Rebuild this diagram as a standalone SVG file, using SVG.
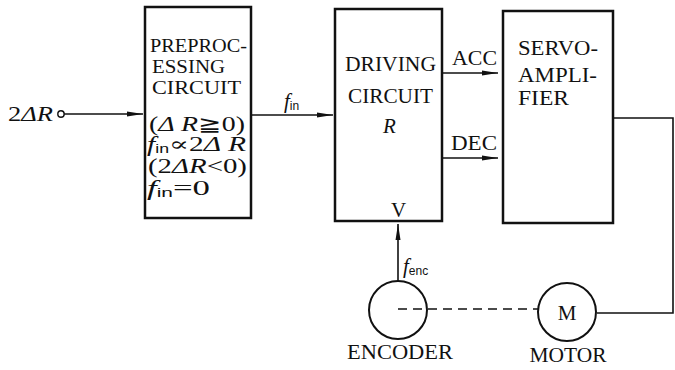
<svg xmlns="http://www.w3.org/2000/svg" width="675" height="370" viewBox="0 0 675 370">
<defs>
<marker id="arr" viewBox="0 0 16 6" refX="16" refY="3" markerWidth="16" markerHeight="6" markerUnits="userSpaceOnUse" orient="auto">
<path d="M0,0.5 L16,3 L0,5.5 Z" fill="#111"/>
</marker>
</defs>
<style>
.box{fill:#fff;stroke:#111;stroke-width:2.5}
.ln{fill:none;stroke:#111;stroke-width:1.6}
.dash{fill:none;stroke:#111;stroke-width:1.6;stroke-dasharray:9,6}
.t{font-family:"Liberation Serif","DejaVu Serif",serif;font-size:21px;fill:#111}
.m{font-size:20px}
.h{font-size:19px}
.i{font-style:italic}
.sub{font-family:"Liberation Sans","DejaVu Sans",sans-serif;font-size:12px;font-style:normal}
</style>
<rect width="675" height="370" fill="#fff"/>
<g id="connectors">
<line class="ln" x1="64" y1="114" x2="143" y2="114" marker-end="url(#arr)"/>
<line class="ln" x1="251" y1="115" x2="333" y2="115" marker-end="url(#arr)"/>
<line class="ln" x1="442" y1="73" x2="498" y2="73" marker-end="url(#arr)"/>
<line class="ln" x1="442" y1="158" x2="498" y2="158" marker-end="url(#arr)"/>
<line class="ln" x1="398" y1="281" x2="398" y2="224" marker-end="url(#arr)"/>
<polyline class="ln" points="613,118 673,118 673,313 597,313"/>
<line class="dash" x1="398" y1="309" x2="538" y2="309"/>
<text class="t i" x="284" y="108" font-size="23">f<tspan class="sub" dy="2">in</tspan></text>
<text class="t" x="452" y="65" textLength="45" lengthAdjust="spacingAndGlyphs">ACC</text>
<text class="t" x="451" y="150" textLength="46" lengthAdjust="spacingAndGlyphs">DEC</text>
<text class="t i" x="403" y="273" font-size="23">f<tspan class="sub" dy="2">enc</tspan></text>
</g>
<g id="input">
<text class="t" x="8" y="121" font-size="24" textLength="45" lengthAdjust="spacingAndGlyphs"><tspan>2</tspan><tspan class="i">ΔR</tspan></text>
<circle cx="61" cy="114" r="3.2" fill="#fff" stroke="#111" stroke-width="1.4"/>
</g>
<g id="preprocessing">
<rect class="box" x="145" y="7" width="106" height="211"/>
<text class="t h" x="150" y="52" textLength="97" lengthAdjust="spacingAndGlyphs">PREPROC-</text>
<text class="t h" x="152" y="73" textLength="73" lengthAdjust="spacingAndGlyphs">ESSING</text>
<text class="t h" x="152" y="94" textLength="89" lengthAdjust="spacingAndGlyphs">CIRCUIT</text>
<text class="t m" x="149" y="131" textLength="96" lengthAdjust="spacingAndGlyphs">(<tspan class="i">Δ R</tspan>≧0)</text>
<text class="t m" x="147" y="151" textLength="99" lengthAdjust="spacingAndGlyphs"><tspan class="i">f</tspan><tspan class="sub" dy="2">in</tspan><tspan dy="-2">∝2</tspan><tspan class="i">Δ R</tspan></text>
<text class="t m" x="148" y="173" textLength="99" lengthAdjust="spacingAndGlyphs">(2<tspan class="i">ΔR</tspan>&lt;0)</text>
<text class="t m" x="147" y="195" textLength="63" lengthAdjust="spacingAndGlyphs"><tspan class="i">f</tspan><tspan class="sub" dy="2">in</tspan><tspan dy="-2">=0</tspan></text>
</g>
<g id="driving">
<rect class="box" x="335" y="9" width="107" height="212"/>
<text class="t" x="345" y="71" textLength="91" lengthAdjust="spacingAndGlyphs">DRIVING</text>
<text class="t" x="348" y="103" textLength="85" lengthAdjust="spacingAndGlyphs">CIRCUIT</text>
<text class="t i" x="383" y="133" font-size="22">R</text>
<text class="t" x="391" y="217">V</text>
</g>
<g id="servo">
<rect class="box" x="503" y="11" width="110" height="212"/>
<text class="t" x="518" y="55" textLength="80" lengthAdjust="spacingAndGlyphs">SERVO-</text>
<text class="t" x="518" y="82" textLength="79" lengthAdjust="spacingAndGlyphs">AMPLI-</text>
<text class="t" x="518" y="105" textLength="51" lengthAdjust="spacingAndGlyphs">FIER</text>
</g>
<g id="encoder">
<circle cx="398" cy="310" r="29" fill="none" stroke="#111" stroke-width="2"/>
<text class="t" x="400" y="359" text-anchor="middle" textLength="106" lengthAdjust="spacingAndGlyphs">ENCODER</text>
</g>
<g id="motor">
<circle cx="567" cy="312" r="29" fill="#fff" stroke="#111" stroke-width="2"/>
<text class="t" x="567" y="320" text-anchor="middle" font-size="22">M</text>
<text class="t" x="568" y="362" text-anchor="middle" textLength="77" lengthAdjust="spacingAndGlyphs">MOTOR</text>
</g>
</svg>
